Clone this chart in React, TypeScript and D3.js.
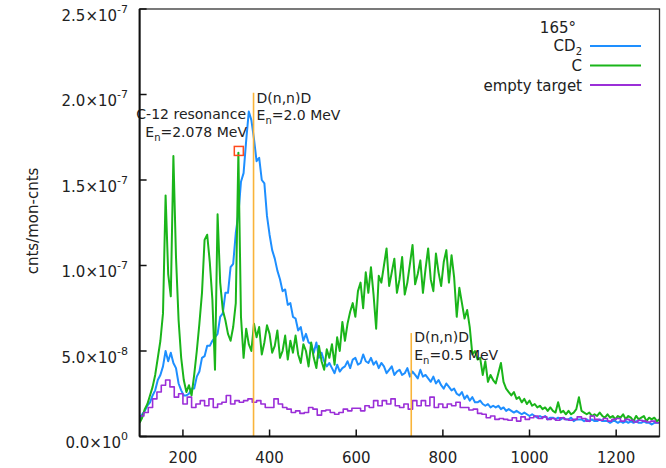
import React from "react";
import * as d3 from "d3";

// ---- data (values in units of 1e-8 cnts/mon-cnts) ----
const CHANNEL_START = 100;
const CHANNEL_STEP = 6; // channel spacing of the CD2 and C samples
const HIST_BIN = 10; // bin width of the empty-target histogram

const cd2Values: number[] = [
  1.0, 1.3, 1.5, 1.8, 2.0, 2.4, 2.7, 3.3, 3.6, 4.1,
  5.0, 4.4, 4.9, 4.3, 4.0, 3.1, 2.7, 2.4, 2.4, 2.5,
  2.8, 2.8, 3.5, 3.8, 4.6, 4.7, 5.3, 5.3, 5.6, 5.8,
  6.0, 7.0, 7.2, 8.4, 8.4, 9.9, 10.1, 11.9, 13.0, 14.9,
  15.4, 17.3, 19.0, 18.5, 17.4, 16.1, 16.3, 15.0, 14.8, 12.9,
  11.8, 10.9, 10.4, 9.7, 9.2, 8.5, 8.6, 7.7, 7.8, 7.0,
  6.9, 6.2, 6.4, 5.6, 6.0, 5.5, 5.4, 4.9, 5.5, 4.6,
  4.9, 4.4, 4.1, 4.3, 4.0, 3.7, 4.2, 3.8, 4.0, 4.1,
  4.4, 4.0, 4.5, 4.6, 4.2, 4.3, 4.8, 4.4, 4.3, 4.6,
  4.2, 4.4, 4.0, 4.3, 4.1, 3.7, 3.9, 4.1, 3.6, 3.8,
  3.9, 3.6, 3.7, 4.0, 3.5, 3.8, 3.6, 3.4, 3.9, 3.5,
  3.6, 3.4, 3.2, 3.5, 3.1, 3.3, 3.0, 2.8, 3.1, 2.9,
  2.7, 2.8, 2.5, 2.4, 2.6, 2.2, 2.4, 2.1, 2.3, 2.0,
  2.0, 2.1, 1.9, 1.8, 1.9, 1.7, 1.8, 1.7, 1.8, 1.6,
  1.7, 1.5, 1.6, 1.5, 1.4, 1.5, 1.4, 1.3, 1.4, 1.3,
  1.2, 1.3, 1.2, 1.1, 1.2, 1.1, 1.2, 1.0, 1.1, 1.1,
  1.0, 1.1, 1.0, 1.1, 1.0, 1.0, 1.1, 0.9, 1.0, 1.0,
  1.0, 0.9, 1.0, 0.9, 1.0, 0.9, 0.9, 1.0, 0.9, 0.9,
  0.9, 0.8, 0.9, 0.9, 0.8, 0.9, 0.8, 0.9, 0.8, 0.9,
  0.8, 0.9, 0.8, 0.8, 0.9, 0.8, 0.8, 0.7, 0.8, 0.8,
  0.8,
];

const cValues: number[] = [
  0.8, 1.1, 1.6, 1.9, 2.4, 2.9, 3.6, 4.6, 5.6, 7.2,
  14.1, 9.5, 8.2, 16.4, 10.5, 6.8, 4.6, 3.3, 2.6, 3.0,
  2.4, 3.6, 5.0, 6.6, 8.4, 11.5, 11.8, 10.2, 8.0, 3.9,
  13.0, 9.0, 7.4, 6.8, 6.0, 5.6, 6.4, 7.8, 16.6, 7.0,
  4.6, 6.3, 5.4, 5.0, 6.6, 5.8, 6.4, 4.8, 5.5, 6.5,
  6.0, 4.9, 5.3, 6.2, 4.6, 5.0, 5.9, 4.5, 5.6, 4.9,
  5.9, 4.8, 4.3, 5.4, 5.0, 4.1, 5.5, 4.6, 4.0, 5.3,
  4.4, 3.9, 5.1, 4.6, 5.4, 4.2, 5.8, 5.0, 6.7, 5.6,
  6.6, 7.3, 7.8, 7.0, 8.5, 9.0, 7.5, 9.6, 8.4, 9.9,
  8.3, 6.3, 9.4, 9.0, 10.0, 11.0, 8.8, 9.6, 10.4, 8.4,
  9.2, 10.5, 8.3, 9.0, 10.1, 11.2, 8.9, 9.5, 10.3, 8.4,
  9.8, 11.0, 9.2, 8.5, 10.7, 9.6, 8.8, 10.2, 10.9, 9.0,
  10.6, 9.3, 7.0, 8.7, 7.8, 6.9, 7.4, 6.4, 4.8, 5.0,
  4.5, 4.6, 3.6, 4.4, 3.2, 3.6, 3.3, 3.1, 3.7, 4.3,
  3.2, 2.8, 2.6, 2.4, 2.6, 2.2, 2.3, 2.0, 2.2, 1.9,
  2.1, 1.8, 1.9, 1.7, 1.8, 1.6, 1.7, 1.5, 1.7, 1.5,
  1.4, 2.0, 1.4, 1.5, 1.3, 1.5, 1.3, 1.4, 1.6, 2.3,
  1.5, 1.4, 1.3, 1.4, 1.2, 1.3, 1.2, 1.4, 1.2, 1.1,
  1.3, 1.1, 1.2, 1.0, 1.2, 1.1, 1.3, 1.0, 1.2, 1.1,
  0.9, 1.2, 1.0, 1.1, 1.2, 0.9, 1.1, 1.0, 1.1, 0.9,
  1.0,
];

const emptyValues: number[] = [
  1.2, 1.4, 1.7, 2.2, 2.6, 3.0, 3.3, 2.9, 2.3, 2.5,
  1.9, 2.3, 1.7, 1.9, 2.1, 1.8, 2.2, 1.7, 1.9, 2.0,
  2.4, 1.9, 2.1, 2.0, 2.1, 2.2, 2.0, 2.1, 1.9, 1.7,
  1.7, 2.2, 1.9, 1.7, 1.6, 1.4, 1.5, 1.35, 1.4, 1.7,
  1.6, 1.25, 1.5, 1.55, 1.4, 1.3, 1.4, 1.6, 1.5, 1.65,
  1.65, 1.5, 1.8, 1.7, 2.1, 1.8, 2.1, 1.9, 2.2, 1.8,
  1.7, 1.9, 1.6, 2.1, 1.8, 2.1, 1.8, 2.3, 1.7, 1.9,
  1.7, 1.9, 1.8, 2.0, 1.7, 1.7, 1.55, 1.6, 1.35, 1.3,
  1.1, 1.2, 1.0, 1.05, 1.0, 0.95, 1.1, 0.9, 1.15, 1.0,
  1.1, 1.2, 1.05, 1.15, 1.0, 1.05, 0.95, 1.1, 1.0, 0.95,
  1.0, 1.15, 1.05, 0.9, 1.2, 1.0, 0.95, 1.05, 0.9, 1.0,
  1.05, 0.9, 1.0, 0.95, 0.85, 0.95, 0.9, 0.85, 0.9, 0.8,
];

const xTicks = [200, 400, 600, 800, 1000, 1200];
const yTicks = [0, 5, 10, 15, 20, 25];
const yTickMantissa = ["0.0", "5.0", "1.0", "1.5", "2.0", "2.5"];
const yTickExponent = ["0", "-8", "-7", "-7", "-7", "-7"];

const legendTitle = "165°";
const seriesNames = ["CD", "C", "empty target"];

// annotation positions (channel, value in 1e-8)
const resonancePoint = { ch: 329, v: 16.7 };
const dndLines = [
  { ch: 363, top: 20.1 },
  { ch: 727, top: 6.05 },
];

const W = 666;
const H = 468;
const M = { left: 139.6, right: 659.5, top: 9, bottom: 436.5 };

const BLUE = "#1e8fff";
const GREEN = "#1ab51a";
const PURPLE = "#9b2fd8";
const ORANGE = "#f9b43a";
const RED = "#ff4a1c";
const FONT = "'DejaVu Sans', Verdana, sans-serif";

export default function App() {
  const x = d3.scaleLinear().domain([100, 1300]).range([M.left, M.right]);
  const y = d3.scaleLinear().domain([0, 25]).range([M.bottom, M.top]);

  const lineGen = d3
    .line<number>()
    .x((_, i) => x(CHANNEL_START + i * CHANNEL_STEP))
    .y((v) => y(v));

  const histPts: [number, number][] = emptyValues.map((v, i) => [
    CHANNEL_START + i * HIST_BIN,
    v,
  ]);
  histPts.push([CHANNEL_START + emptyValues.length * HIST_BIN, emptyValues[emptyValues.length - 1]]);
  const histGen = d3
    .line<[number, number]>()
    .x((d) => x(d[0]))
    .y((d) => y(d[1]))
    .curve(d3.curveStepAfter);

  const legendX1 = 590;
  const legendX2 = 641;
  const legendTextX = 582;
  const legendY = [46, 65.5, 85];
  const legendColors = [BLUE, GREEN, PURPLE];

  return (
    <svg
      width={W}
      height={H}
      style={{ position: "absolute", left: 0, top: 0, background: "#fff" }}
      fontFamily={FONT}
    >
      <defs>
        <clipPath id="plotclip">
          <rect x={M.left} y={M.top} width={M.right - M.left} height={M.bottom - M.top} />
        </clipPath>
      </defs>
      <rect x={0} y={0} width={W} height={H} fill="#fff" />

      {/* data */}
      <g clipPath="url(#plotclip)" fill="none" strokeLinejoin="round">
        <path d={lineGen(cd2Values) || ""} stroke={BLUE} strokeWidth={2} />
        <path d={lineGen(cValues) || ""} stroke={GREEN} strokeWidth={2} />
        <path d={histGen(histPts) || ""} stroke={PURPLE} strokeWidth={1.6} />
      </g>

      {/* annotation lines */}
      {dndLines.map((l, i) => (
        <line
          key={i}
          x1={x(l.ch)}
          x2={x(l.ch)}
          y1={y(0)}
          y2={y(l.top)}
          stroke={ORANGE}
          strokeWidth={1.6}
        />
      ))}
      <rect
        x={x(resonancePoint.ch) - 4.5}
        y={y(resonancePoint.v) - 4.5}
        width={9}
        height={9}
        fill="none"
        stroke={RED}
        strokeWidth={1.5}
      />

      {/* annotation texts */}
      <g fontSize={14} fill="#222">
        <text x={246} y={119} textAnchor="end">C-12 resonance</text>
        <text x={247} y={137} textAnchor="end">
          E<tspan dy={4} fontSize={10}>n</tspan>
          <tspan dy={-4}>=2.078 MeV</tspan>
        </text>
        <text x={x(dndLines[0].ch) + 3} y={103}>D(n,n)D</text>
        <text x={x(dndLines[0].ch) + 3} y={120}>
          E<tspan dy={4} fontSize={10}>n</tspan>
          <tspan dy={-4}>=2.0 MeV</tspan>
        </text>
        <text x={x(dndLines[1].ch) + 3} y={342}>D(n,n)D</text>
        <text x={x(dndLines[1].ch) + 3} y={360}>
          E<tspan dy={4} fontSize={10}>n</tspan>
          <tspan dy={-4}>=0.5 MeV</tspan>
        </text>
      </g>

      {/* frame */}
      <rect
        x={M.left}
        y={M.top}
        width={M.right - M.left}
        height={M.bottom - M.top}
        fill="none"
        stroke="#333"
        strokeWidth={1.3}
      />
      <line x1={M.left} x2={M.left} y1={M.top} y2={M.bottom} stroke="#111" strokeWidth={2} />
      <line x1={M.left} x2={M.right} y1={M.bottom} y2={M.bottom} stroke="#111" strokeWidth={2} />

      {/* x ticks */}
      {xTicks.map((t) => (
        <g key={t}>
          <line x1={x(t)} x2={x(t)} y1={M.bottom} y2={M.bottom - 7} stroke="#111" strokeWidth={1.5} />
          <text x={x(t)} y={463} textAnchor="middle" fontSize={15} fill="#222">
            {t}
          </text>
        </g>
      ))}

      {/* y ticks */}
      {yTicks.map((t, i) => (
        <g key={t}>
          <line x1={M.left} x2={M.left + 7} y1={y(t)} y2={y(t)} stroke="#111" strokeWidth={1.5} />
          <text x={128} y={y(t) + 11.5} textAnchor="end" fontSize={15} fill="#222">
            {yTickMantissa[i]}×10
            <tspan dy={-8} fontSize={11}>
              {yTickExponent[i]}
            </tspan>
          </text>
        </g>
      ))}

      {/* y label */}
      <text
        transform="translate(33,221) rotate(-90)"
        textAnchor="middle"
        dy="0.35em"
        fontSize={15}
        fill="#222"
      >
        cnts/mon-cnts
      </text>

      {/* legend */}
      <g fontSize={15} fill="#222">
        <text x={576} y={33} textAnchor="end">{legendTitle}</text>
        <text x={legendTextX} y={legendY[0] + 5} textAnchor="end">
          {seriesNames[0]}
          <tspan dy={4} fontSize={10}>2</tspan>
        </text>
        <text x={legendTextX} y={legendY[1] + 5.5} textAnchor="end">{seriesNames[1]}</text>
        <text x={legendTextX} y={legendY[2] + 5.5} textAnchor="end">{seriesNames[2]}</text>
        {legendY.map((ly, i) => (
          <line key={i} x1={legendX1} x2={legendX2} y1={ly} y2={ly} stroke={legendColors[i]} strokeWidth={2} />
        ))}
      </g>
    </svg>
  );
}
